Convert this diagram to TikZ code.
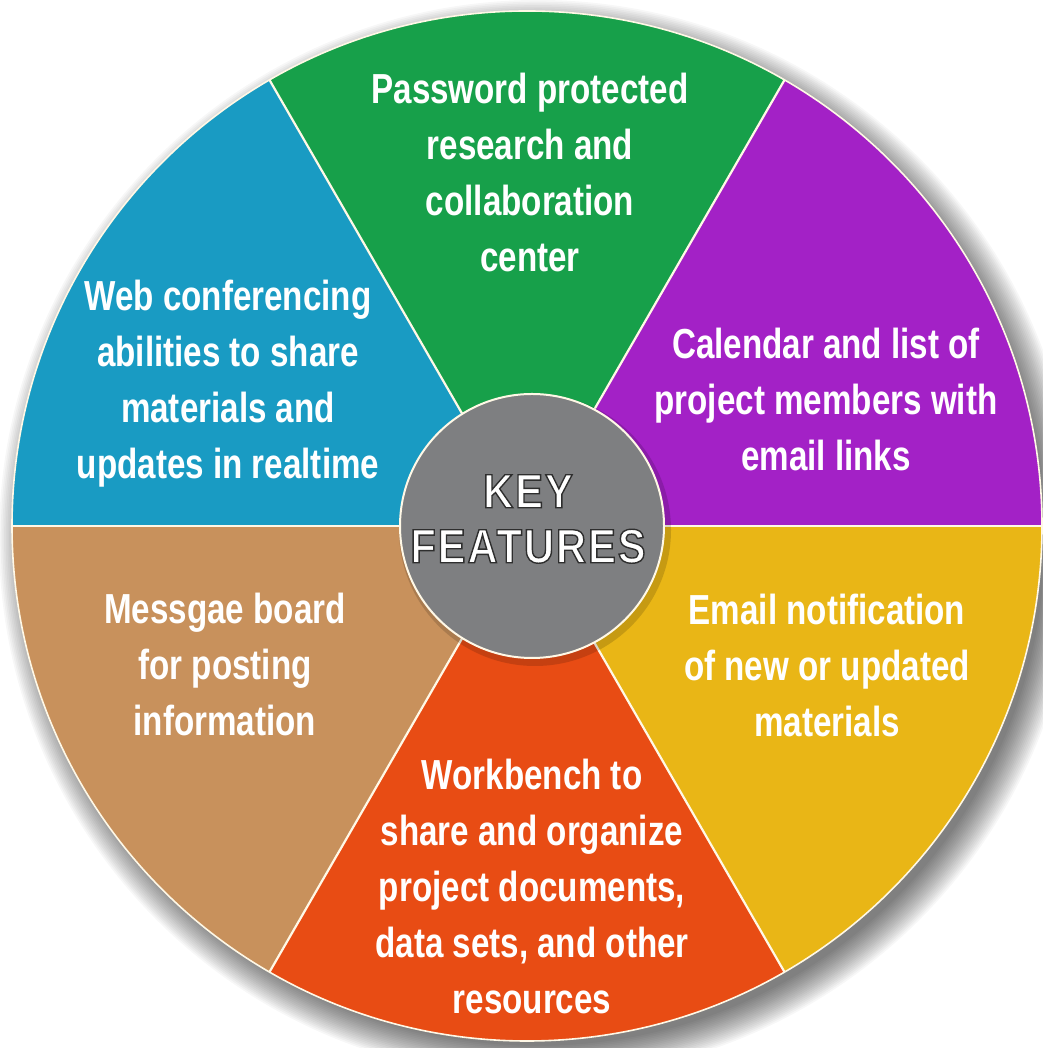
\documentclass[tikz,border=0pt]{standalone}
\usepackage{fontspec}
\setmainfont{Liberation Sans}
\newfontfamily\labfont{Liberation Sans}[FakeStretch=0.79]
\newfontfamily\keyfont{Liberation Sans}[FakeStretch=0.87, LetterSpace=4]
\definecolor{cgreen}{HTML}{17A04A}
\definecolor{cpurple}{HTML}{A321C6}
\definecolor{cyellow}{HTML}{E9B616}
\definecolor{corange}{HTML}{E84C14}
\definecolor{cbrown}{HTML}{C8915C}
\definecolor{cblue}{HTML}{199BC3}
\definecolor{cgray}{HTML}{7E7F81}
\definecolor{cline}{HTML}{FFF8E6}
% white letters with a thin dark outline (fill, then stroke)
\newcommand\olword[1]{{\color{white}\special{pdf:literal direct 2 Tr 1.4 w 0.18 0.18 0.18 RG}#1\special{pdf:literal direct 0 Tr}}}
\begin{document}
\begin{tikzpicture}[x=1pt,y=1pt,
  seclabel/.style={font=\labfont\bfseries\fontsize{42}{56}\selectfont, text=white, align=center, inner sep=0pt},
  keytext/.style={font=\keyfont\bfseries\fontsize{48}{55}\selectfont, align=center, inner sep=0pt},
  sepline/.style={draw=cline, line width=2.2pt}]
\useasboundingbox (0,0) rectangle (1042,1048);
\fill[white] (0,0) rectangle (1042,1048);
\def\R{515}
\coordinate (C) at (527,522);
\coordinate (S) at (538,509);
% soft shadow
\foreach \i in {1,...,20}
  \fill[black, opacity=0.03] (S) circle[radius=\R-10+\i*1.7];
% sectors
\fill[cpurple] (C) -- ++(0:\R) arc[start angle=0,end angle=60,radius=\R] -- cycle;
\fill[cgreen]  (C) -- ++(60:\R) arc[start angle=60,end angle=120,radius=\R] -- cycle;
\fill[cblue]   (C) -- ++(120:\R) arc[start angle=120,end angle=180,radius=\R] -- cycle;
\fill[cbrown]  (C) -- ++(180:\R) arc[start angle=180,end angle=240,radius=\R] -- cycle;
\fill[corange] (C) -- ++(240:\R) arc[start angle=240,end angle=300,radius=\R] -- cycle;
\fill[cyellow] (C) -- ++(300:\R) arc[start angle=300,end angle=360,radius=\R] -- cycle;
% separators
\foreach \a in {0,60,...,300}
  \draw[sepline] (C) -- ++(\a:\R);
\draw[sepline, line width=1.6pt] (C) circle[radius=\R];
% centre circle
\fill[black, opacity=0.15] (535,518) circle[radius=136];
\node[circle, fill=cgray, draw=cline, line width=2pt, minimum size=264pt, inner sep=0pt] (key) at (532,522) {};
\node[keytext] (keylabel) at (528,529) {\olword{KEY}\\\olword{FEATURES}};
% labels
\node[seclabel] (pw) at (530,875) {Password protected\\research and\\collaboration\\center};
\node[seclabel] (cal) at (826,649) {Calendar and list of\\project members with\\email links};
\node[seclabel] (mail) at (827,383) {Email notification\\of new or updated\\materials};
\node[seclabel] (wb) at (532,162) {Workbench to\\share and organize\\project documents,\\data sets, and other\\resources};
\node[seclabel] (msg) at (225,384) {Messgae board\\for posting\\information};
\node[seclabel] (web) at (228,664) {Web conferencing\\abilities to share\\materials and\\updates in realtime};
\end{tikzpicture}
\end{document}
